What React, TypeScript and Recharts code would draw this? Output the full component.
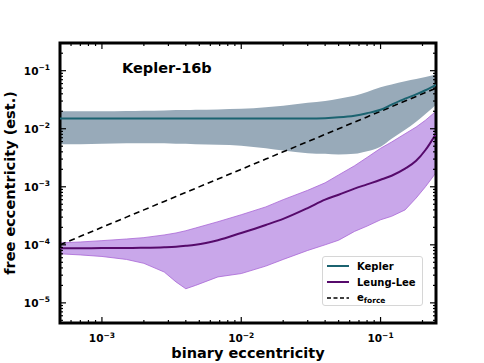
import React from "react"
import {
  ComposedChart,
  Area,
  Line,
  XAxis,
  YAxis,
  Legend,
  ReferenceArea,
  Customized,
} from "recharts"

// binary eccentricity grid (x)
const eBin = [
  0.0005, 0.0007, 0.001, 0.0015, 0.002, 0.0028, 0.0034, 0.004, 0.0047, 0.0068,
  0.01, 0.015, 0.02, 0.03, 0.04, 0.05, 0.065, 0.08, 0.1, 0.12, 0.15, 0.18, 0.21, 0.25,
]

// Kepler: median and spread
const keplerMed = [
  0.015, 0.015, 0.015, 0.015, 0.015, 0.015, 0.015, 0.015, 0.015, 0.015,
  0.015, 0.015, 0.015, 0.015, 0.0152, 0.0157, 0.0168, 0.0185, 0.0212, 0.026, 0.033, 0.039, 0.046, 0.057,
]
const keplerHi = [
  0.02, 0.02, 0.02, 0.0202, 0.0205, 0.0207, 0.021, 0.021, 0.0212, 0.0215,
  0.022, 0.0235, 0.025, 0.028, 0.03, 0.033, 0.037, 0.043, 0.052, 0.058, 0.066, 0.072, 0.078, 0.086,
]
const keplerLo = [
  0.0054, 0.0054, 0.0055, 0.0056, 0.0056, 0.0056, 0.0055, 0.0055, 0.0054, 0.0053,
  0.0051, 0.0046, 0.0042, 0.0038, 0.0037, 0.0036, 0.0037, 0.0041, 0.0049, 0.0067, 0.0096, 0.0132, 0.018, 0.026,
]

// Leung-Lee: median and spread
const llMed = [
  8.7e-5, 8.7e-5, 8.8e-5, 8.8e-5, 8.9e-5, 9.1e-5, 9.3e-5, 9.6e-5, 1.0e-4, 1.2e-4,
  1.6e-4, 2.2e-4, 2.8e-4, 4.3e-4, 6.0e-4, 7.3e-4, 9.3e-4, 1.1e-3, 1.32e-3, 1.55e-3, 2.05e-3, 2.8e-3, 4.3e-3, 8.2e-3,
]
const llHi = [
  1.08e-4, 1.12e-4, 1.18e-4, 1.26e-4, 1.33e-4, 1.48e-4, 1.6e-4, 1.75e-4, 1.95e-4, 2.5e-4,
  3.3e-4, 4.5e-4, 6.0e-4, 8.7e-4, 1.17e-3, 1.6e-3, 2.3e-3, 3.2e-3, 4.6e-3, 5.9e-3, 8.2e-3, 1.07e-2, 1.4e-2, 2.0e-2,
]
const llLo = [
  7.0e-5, 6.7e-5, 6.3e-5, 5.6e-5, 4.8e-5, 3.4e-5, 2.3e-5, 1.75e-5, 2.0e-5, 2.8e-5,
  3.2e-5, 4.3e-5, 5.6e-5, 8.0e-5, 1.0e-4, 1.2e-4, 1.7e-4, 2.1e-4, 2.7e-4, 3.1e-4, 4.0e-4, 6.4e-4, 1.0e-3, 1.75e-3,
]

// forced eccentricity
const eForce = [
  1e-4, 1.4e-4, 2e-4, 3e-4, 4e-4, 5.6e-4, 6.8e-4, 8e-4, 9.4e-4, 1.36e-3,
  2e-3, 3e-3, 4e-3, 6e-3, 8e-3, 1e-2, 1.3e-2, 1.6e-2, 2e-2, 2.4e-2, 3e-2, 3.6e-2, 4.2e-2, 5e-2,
]

const xTicks = [
  0.0005, 0.0006, 0.0007, 0.0008, 0.0009, 0.001,
  0.002, 0.003, 0.004, 0.005, 0.006, 0.007, 0.008, 0.009, 0.01,
  0.02, 0.03, 0.04, 0.05, 0.06, 0.07, 0.08, 0.09, 0.1, 0.2,
]
const yTicks = [
  5e-6, 6e-6, 7e-6, 8e-6, 9e-6, 1e-5,
  2e-5, 3e-5, 4e-5, 5e-5, 6e-5, 7e-5, 8e-5, 9e-5, 1e-4,
  2e-4, 3e-4, 4e-4, 5e-4, 6e-4, 7e-4, 8e-4, 9e-4, 1e-3,
  2e-3, 3e-3, 4e-3, 5e-3, 6e-3, 7e-3, 8e-3, 9e-3, 1e-2,
  2e-2, 3e-2, 4e-2, 5e-2, 6e-2, 7e-2, 8e-2, 9e-2, 1e-1, 2e-1,
]

const legendNames = ["Kepler", "Leung-Lee", "e_force"]
const legendColors = ["#1b6370", "#560a6b", "#000000"]

const FONT = "DejaVu Sans"
const W = 484
const H = 363
const PLOT = { left: 60, top: 43, right: 436, bottom: 323 }

const data = eBin.map((e, i) => ({
  e,
  kepMed: keplerMed[i],
  kepBand: [keplerLo[i], keplerHi[i]],
  llMed: llMed[i],
  llBand: [llLo[i], llHi[i]],
  force: eForce[i],
}))

const isMajor = (v: number) => {
  const l = Math.log10(v)
  return Math.abs(l - Math.round(l)) < 1e-6
}

function XTick({ x, payload }: any) {
  const v = payload.value
  const major = isMajor(v)
  const len = major ? 6 : 3
  return (
    <g>
      <line x1={x} x2={x} y1={PLOT.bottom} y2={PLOT.bottom - len} stroke="#000" strokeWidth={1.2} />
      <line x1={x} x2={x} y1={PLOT.top} y2={PLOT.top + len} stroke="#000" strokeWidth={1.2} />
      {major && (
        <text x={x} y={342} textAnchor="middle" fontFamily={FONT} fontWeight="bold" fontSize={10.5} fill="#000">
          10<tspan dy={-4.5} fontSize={7.5}>{"\u2212" + Math.abs(Math.round(Math.log10(v)))}</tspan>
        </text>
      )}
    </g>
  )
}

function YTick({ y, payload }: any) {
  const v = payload.value
  const major = isMajor(v)
  const len = major ? 6 : 3
  return (
    <g>
      <line x1={PLOT.left} x2={PLOT.left + len} y1={y} y2={y} stroke="#000" strokeWidth={1.2} />
      <line x1={PLOT.right} x2={PLOT.right - len} y1={y} y2={y} stroke="#000" strokeWidth={1.2} />
      {major && (
        <text x={50} y={y + 4} textAnchor="end" fontFamily={FONT} fontWeight="bold" fontSize={10.5} fill="#000">
          10<tspan dy={-4.5} fontSize={7.5}>{"\u2212" + Math.abs(Math.round(Math.log10(v)))}</tspan>
        </text>
      )}
    </g>
  )
}

function LegendBox() {
  return (
    <div
      style={{
        width: 101,
        height: 50,
        boxSizing: "border-box",
        background: "#fff",
        border: "1px solid #d6d6d6",
        borderRadius: 3,
        fontFamily: FONT,
        fontWeight: "bold",
        fontSize: 10,
        paddingTop: 1,
      }}
    >
      {legendNames.map((name, i) => (
        <div key={name} style={{ height: 16, display: "flex", alignItems: "center" }}>
          <svg width={34} height={16} style={{ flex: "none" }}>
            <line
              x1={4}
              x2={26}
              y1={8}
              y2={8}
              stroke={legendColors[i]}
              strokeWidth={i === 2 ? 1.5 : 2}
              strokeDasharray={i === 2 ? "4 2.5" : undefined}
            />
          </svg>
          {name === "e_force" ? (
            <span>
              e<sub style={{ fontSize: 7.5, verticalAlign: "-2px" }}>force</sub>
            </span>
          ) : (
            <span>{name}</span>
          )}
        </div>
      ))}
    </div>
  )
}

export default function App() {
  return (
    <div style={{ position: "absolute", left: 0, top: 0, width: W, height: H, background: "#fff" }}>
      <ComposedChart
        width={W}
        height={H}
        data={data}
        margin={{ top: PLOT.top, left: PLOT.left - 1, right: W - PLOT.right, bottom: H - PLOT.bottom - 1 }}
      >
        <XAxis
          dataKey="e"
          type="number"
          scale="log"
          domain={[0.0005, 0.25]}
          allowDataOverflow
          ticks={xTicks}
          interval={0}
          height={1}
          tickSize={0}
          tickMargin={0}
          tickLine={false}
          axisLine={false}
          tick={(p: any) => <XTick {...p} />}
          label={{
            content: () => (
              <text x={(PLOT.left + PLOT.right) / 2} y={358} textAnchor="middle" fontFamily={FONT} fontWeight="bold" fontSize={14.5} fill="#000">
                binary eccentricity
              </text>
            ),
          }}
        />
        <YAxis
          type="number"
          scale="log"
          domain={[4.5e-6, 0.3]}
          allowDataOverflow
          ticks={yTicks}
          interval={0}
          width={1}
          tickSize={0}
          tickMargin={0}
          tickLine={false}
          axisLine={false}
          tick={(p: any) => <YTick {...p} />}
          label={{
            content: () => (
              <text
                x={15}
                y={(PLOT.top + PLOT.bottom) / 2}
                textAnchor="middle"
                transform={`rotate(-90 15 ${(PLOT.top + PLOT.bottom) / 2})`}
                fontFamily={FONT}
                fontWeight="bold"
                fontSize={14.5}
                fill="#000"
              >
                free eccentricity (est.)
              </text>
            ),
          }}
        />
        <Area
          dataKey="kepBand"
          type="monotone"
          fill="#98aab9"
          fillOpacity={1}
          stroke="none"
          legendType="none"
          isAnimationActive={false}
        />
        <Area
          dataKey="llBand"
          type="linear"
          fill="#c9a7ea"
          fillOpacity={1}
          stroke="#a866d6"
          strokeWidth={0.8}
          legendType="none"
          isAnimationActive={false}
        />
        <Line
          dataKey="force"
          name="e_force"
          type="linear"
          stroke="#000"
          strokeWidth={1.6}
          strokeDasharray="6 4"
          dot={false}
          isAnimationActive={false}
        />
        <Line
          dataKey="kepMed"
          name="Kepler"
          type="monotone"
          stroke="#1b6370"
          strokeWidth={2}
          dot={false}
          isAnimationActive={false}
        />
        <Line
          dataKey="llMed"
          name="Leung-Lee"
          type="monotone"
          stroke="#560a6b"
          strokeWidth={2}
          dot={false}
          isAnimationActive={false}
        />
        <ReferenceArea
          x1={0.0005}
          x2={0.25}
          y1={4.5e-6}
          y2={0.3}
          fill="none"
          fillOpacity={0}
          stroke="#000"
          strokeWidth={3}
          ifOverflow="visible"
        />
        <Customized
          component={() => (
            <text x={122} y={73} fontFamily={FONT} fontWeight="bold" fontSize={14.5} fill="#000">
              Kepler-16b
            </text>
          )}
        />
        <Legend
          layout="vertical"
          align="center"
          verticalAlign="middle"
          wrapperStyle={{ left: 322, top: 256, width: 101, height: 50 }}
          content={() => <LegendBox />}
        />
      </ComposedChart>
    </div>
  )
}
